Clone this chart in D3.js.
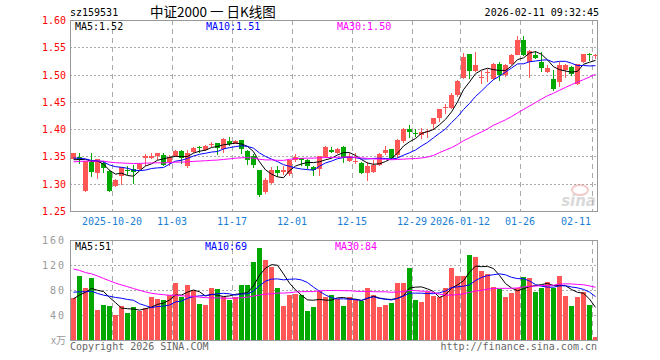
<!DOCTYPE html>
<html><head><meta charset="utf-8">
<script src="https://cdn.jsdelivr.net/npm/d3@7/dist/d3.min.js"></script>
<style>html,body{margin:0;padding:0;background:#fff}svg{display:block}</style>
</head><body><svg id="c" width="660" height="360"></svg>
<script>
const dates = [
"2025-10-09","2025-10-10","2025-10-13","2025-10-14","2025-10-15","2025-10-16","2025-10-17",
"2025-10-20","2025-10-21","2025-10-22","2025-10-23","2025-10-24","2025-10-27","2025-10-28","2025-10-29","2025-10-30","2025-10-31",
"2025-11-03","2025-11-04","2025-11-05","2025-11-06","2025-11-07","2025-11-10","2025-11-11","2025-11-12","2025-11-13","2025-11-14",
"2025-11-17","2025-11-18","2025-11-19","2025-11-20","2025-11-21","2025-11-24","2025-11-25","2025-11-26","2025-11-27","2025-11-28",
"2025-12-01","2025-12-02","2025-12-03","2025-12-04","2025-12-05","2025-12-08","2025-12-09","2025-12-10","2025-12-11","2025-12-12",
"2025-12-15","2025-12-16","2025-12-17","2025-12-18","2025-12-19","2025-12-22","2025-12-23","2025-12-24","2025-12-25","2025-12-26",
"2025-12-29","2025-12-30","2025-12-31",
"2026-01-05","2026-01-06","2026-01-07","2026-01-08","2026-01-09",
"2026-01-12","2026-01-13","2026-01-14","2026-01-15","2026-01-16","2026-01-19","2026-01-20","2026-01-21","2026-01-22","2026-01-23",
"2026-01-26","2026-01-27","2026-01-28","2026-01-29","2026-01-30",
"2026-02-02","2026-02-03","2026-02-04","2026-02-05","2026-02-06","2026-02-09","2026-02-10","2026-02-11"];

const openP = [1.346,1.349,1.286,1.340,1.319,1.338,1.324,1.296,1.314,1.326,1.327,1.327,1.348,1.348,1.351,1.352,1.340,1.350,1.360,1.333,
1.359,1.368,1.361,1.371,1.374,1.364,1.379,1.373,1.380,1.360,1.350,1.325,1.284,1.301,1.325,1.321,1.317,1.344,1.347,1.344,
1.330,1.327,1.349,1.361,1.357,1.368,1.341,1.339,1.338,1.319,1.321,1.335,1.356,1.363,1.352,1.379,1.400,1.393,1.389,1.394,
1.409,1.420,1.438,1.438,1.462,1.493,1.538,1.507,1.494,1.503,1.492,1.520,1.499,1.520,1.536,1.564,1.523,1.536,1.523,1.504,
1.492,1.486,1.509,1.513,1.483,1.523,1.538,1.534];
const highP = [1.357,1.356,1.342,1.356,1.345,1.342,1.325,1.309,1.331,1.333,1.334,1.338,1.354,1.357,1.357,1.357,1.352,1.362,1.362,1.361,
1.368,1.370,1.371,1.376,1.375,1.383,1.386,1.381,1.381,1.361,1.354,1.326,1.310,1.331,1.333,1.332,1.344,1.354,1.348,1.346,
1.332,1.350,1.370,1.368,1.366,1.370,1.356,1.356,1.340,1.340,1.344,1.356,1.369,1.364,1.382,1.402,1.407,1.400,1.403,1.401,
1.421,1.437,1.446,1.467,1.490,1.540,1.538,1.541,1.507,1.510,1.521,1.523,1.519,1.537,1.570,1.570,1.545,1.544,1.541,1.518,
1.509,1.523,1.520,1.515,1.520,1.538,1.540,1.538];
const lowP = [1.345,1.337,1.284,1.313,1.309,1.319,1.285,1.294,1.298,1.316,1.299,1.326,1.333,1.345,1.343,1.333,1.333,1.349,1.336,1.328,
1.357,1.356,1.360,1.367,1.352,1.357,1.369,1.372,1.354,1.335,1.328,1.276,1.281,1.300,1.313,1.316,1.314,1.340,1.332,1.327,
1.315,1.315,1.348,1.356,1.354,1.338,1.339,1.336,1.317,1.305,1.320,1.332,1.353,1.346,1.348,1.374,1.384,1.385,1.382,1.383,
1.399,1.414,1.428,1.437,1.458,1.492,1.491,1.505,1.483,1.486,1.490,1.488,1.495,1.518,1.535,1.534,1.493,1.528,1.504,1.502,
1.469,1.478,1.493,1.498,1.480,1.521,1.525,1.528];
const closeP = [1.356,1.344,1.341,1.322,1.345,1.328,1.287,1.306,1.331,1.323,1.322,1.336,1.350,1.351,1.356,1.335,1.349,1.360,1.348,1.357,
1.366,1.367,1.369,1.373,1.366,1.382,1.373,1.379,1.364,1.344,1.334,1.279,1.306,1.325,1.319,1.326,1.343,1.349,1.344,1.333,
1.325,1.350,1.367,1.358,1.363,1.347,1.350,1.341,1.320,1.332,1.335,1.355,1.361,1.348,1.381,1.400,1.394,1.391,1.395,1.397,
1.420,1.437,1.441,1.463,1.488,1.533,1.507,1.517,1.496,1.505,1.520,1.500,1.517,1.536,1.564,1.536,1.544,1.530,1.512,1.512,
1.474,1.517,1.518,1.501,1.520,1.538,1.536,1.535];
const volume = [66.6,101.8,82.6,98.6,48.5,56.5,54.9,40.5,54.9,43.7,53.3,46.9,51.2,68.2,65.5,63.4,72.0,90.6,68.2,88.5,
80.5,58.1,56.5,82.6,80.9,69.3,63.4,69.3,88.5,88.5,124.2,146.6,127.4,116.2,83.7,54.9,72.5,74.1,72.5,46.9,
52.2,78.9,68.2,72.5,65.5,54.9,68.2,65.5,61.8,82.6,72.5,53.3,56.5,59.7,91.7,91.7,115.7,64.4,61.2,76.1,
70.8,68.2,83.7,115.7,102.9,102.9,136.5,133.3,110.9,105.5,85.3,81.6,68.2,75.7,82.6,101.3,99.7,76.1,83.7,92.3,
83.7,102.9,70.8,54.9,69.3,76.1,56.5,4.2];
// closes / volumes of the 29 sessions before the window (estimated from where the MA lines start)
const prevCloses = [1.318,1.325,1.331,1.329,1.336,1.342,1.338,1.345,1.340,1.334,1.330,1.337,1.341,1.346,1.339,1.333,1.338,1.344,1.342,1.343,
1.348,1.353,1.349,1.352,1.348,1.343,1.338,1.342,1.341];
const prevVolumes = [170,185,160,150,175,166,155,140,128,145,130,132,130,105,92,100,88,98,96,98,95,82,90,84,84,72,60,68,63];

const priceTicks = [1.25,1.30,1.35,1.40,1.45,1.50,1.55,1.60];
const volTicks = [40,80,120,160];
const xTickDates = ["2025-10-20","2025-11-03","2025-11-17","2025-12-01","2025-12-15","2025-12-29","2026-01-12","2026-01-26","2026-02-11"];
const xTickLabels = ["2025-10-20","11-03","11-17","12-01","12-15","12-29","2026-01-12","01-26","02-11"];
const priceMaLabels = ["MA5:1.52","MA10:1.51","MA30:1.50"];
const volMaLabels = ["MA5:51","MA10:69","MA30:84"];
const maPeriods = [5,10,30];
const maColors = ["#000000","#0000ff","#ff00ff"];

const RED = "#ff5656", GREEN = "#00a800", GRID = "#aaaaaa", FRAME = "#999999";
const MONO = "'DejaVu Sans Mono', 'Liberation Mono', monospace";

const svg = d3.select("#c");
const L = 70, R = 598;
const x = d3.scaleBand().domain(dates).range([L, R]).padding(0);
const yP = d3.scaleLinear().domain([1.25, 1.60]).range([211, 20]);
const yV = d3.scaleLinear().domain([0, 160]).range([340, 240]);

function movingAvg(series, prev, n) {
  const all = prev.concat(series), off = prev.length;
  return series.map((_, i) => d3.mean(all.slice(off + i - n + 1, off + i + 1)));
}

// header
svg.append("text").attr("x", 70).attr("y", 16).attr("font-family", MONO).attr("font-size", 10).attr("fill", "#000").text("sz159531");
svg.append("text").attr("x", 150).attr("y", 17).attr("font-family", "'Noto Sans CJK SC', sans-serif").attr("font-size", 13.5).attr("fill", "#000").text("中证2000 一 日K线图");
svg.append("text").attr("x", 599).attr("y", 16).attr("text-anchor", "end").attr("font-family", MONO).attr("font-size", 10).attr("fill", "#000").text("2026-02-11 09:32:45");

// ---------- price panel ----------
const gP = svg.append("g");
gP.selectAll(".hg").data(priceTicks.slice(1, -1)).join("line")
  .attr("x1", L).attr("x2", R).attr("y1", d => Math.round(yP(d)) + 0.5).attr("y2", d => Math.round(yP(d)) + 0.5)
  .attr("stroke", GRID).attr("stroke-dasharray", "2,2");
gP.selectAll(".vg").data(xTickDates).join("line")
  .attr("x1", d => x(d) + 0.5).attr("x2", d => x(d) + 0.5).attr("y1", 20).attr("y2", 211)
  .attr("stroke", GRID).attr("stroke-dasharray", "5,4");
gP.selectAll(".pl").data(priceTicks).join("text")
  .attr("x", 66).attr("y", d => yP(d) + 4).attr("text-anchor", "end")
  .attr("font-family", MONO).attr("font-size", 10).attr("fill", "#ff0000").text(d => d.toFixed(2));

// watermark
const wm = svg.append("g").attr("opacity", 0.55);
wm.append("ellipse").attr("cx", 580).attr("cy", 190).attr("rx", 8).attr("ry", 5).attr("fill", "none").attr("stroke", "#e8a0a0").attr("stroke-width", 2);
wm.append("text").attr("x", 596).attr("y", 206).attr("text-anchor", "end").attr("font-family", "'DejaVu Sans', sans-serif")
  .attr("font-size", 15).attr("font-weight", "bold").attr("font-style", "italic").attr("fill", "#bbbbbb").text("sina");

// candles
const cg = gP.append("g").attr("shape-rendering", "crispEdges");
const idx = d3.range(dates.length);
cg.selectAll(".wick").data(idx).join("line")
  .attr("x1", i => x(dates[i]) + 3.5).attr("x2", i => x(dates[i]) + 3.5)
  .attr("y1", i => yP(highP[i])).attr("y2", i => yP(lowP[i]))
  .attr("stroke", i => closeP[i] >= openP[i] ? RED : GREEN);
cg.selectAll(".body").data(idx).join("rect")
  .attr("x", i => x(dates[i]) + 1).attr("width", 5)
  .attr("y", i => yP(Math.max(openP[i], closeP[i])))
  .attr("height", i => Math.max(1, Math.abs(yP(openP[i]) - yP(closeP[i]))))
  .attr("fill", i => closeP[i] >= openP[i] ? RED : GREEN);

// price MAs
maPeriods.forEach((n, k) => {
  const m = movingAvg(closeP, prevCloses, n);
  gP.append("path").datum(m)
    .attr("d", d3.line().x((d, i) => x(dates[i]) + 3.5).y(d => yP(d)))
    .attr("fill", "none").attr("stroke", maColors[k]).attr("stroke-width", 1);
});
const maX = [75, 206, 337];
priceMaLabels.forEach((t, k) => svg.append("text").attr("x", maX[k]).attr("y", 30)
  .attr("font-family", MONO).attr("font-size", 10).attr("fill", maColors[k]).text(t));

svg.append("rect").attr("x", L + 0.5).attr("y", 20.5).attr("width", R - L - 1).attr("height", 191)
  .attr("fill", "none").attr("stroke", FRAME).attr("shape-rendering", "crispEdges");

// x labels
svg.selectAll(".xl").data(xTickDates).join("text")
  .attr("x", (d, i) => i === xTickDates.length - 1 ? x(d) - 1 : x(d))
  .attr("y", 225)
  .attr("text-anchor", (d, i) => i === xTickDates.length - 1 ? "end" : "middle")
  .attr("font-family", MONO).attr("font-size", 10).attr("fill", "#1a7fd4")
  .text((d, i) => xTickLabels[i]);

// ---------- volume panel ----------
const gV = svg.append("g");
gV.selectAll(".hg").data(volTicks.slice(0, -1)).join("line")
  .attr("x1", L).attr("x2", R).attr("y1", d => Math.round(yV(d)) + 0.5).attr("y2", d => Math.round(yV(d)) + 0.5)
  .attr("stroke", GRID).attr("stroke-dasharray", "2,2");
gV.selectAll(".vg").data(xTickDates).join("line")
  .attr("x1", d => x(d) + 0.5).attr("x2", d => x(d) + 0.5).attr("y1", 240).attr("y2", 340)
  .attr("stroke", GRID).attr("stroke-dasharray", "5,4");
gV.append("g").attr("shape-rendering", "crispEdges").selectAll("rect").data(idx).join("rect")
  .attr("x", i => x(dates[i]) + 1).attr("width", 5)
  .attr("y", i => yV(volume[i])).attr("height", i => yV(0) - yV(volume[i]))
  .attr("fill", i => closeP[i] >= openP[i] ? RED : GREEN);
maPeriods.forEach((n, k) => {
  const m = movingAvg(volume, prevVolumes, n);
  gV.append("path").datum(m)
    .attr("d", d3.line().x((d, i) => x(dates[i]) + 3.5).y(d => yV(d)))
    .attr("fill", "none").attr("stroke", maColors[k]).attr("stroke-width", 1);
});
gV.selectAll(".vl").data(volTicks).join("text")
  .attr("x", 66).attr("y", d => yV(d) + 4).attr("text-anchor", "end")
  .attr("font-family", MONO).attr("font-size", 10).attr("letter-spacing", 2).attr("fill", "#999").text(d => d);
svg.append("text").attr("x", 66).attr("y", 344).attr("text-anchor", "end")
  .attr("font-family", "'Noto Sans CJK SC', sans-serif").attr("font-size", 10).attr("fill", "#999").text("x万");
const vmaX = [75, 205, 335];
volMaLabels.forEach((t, k) => svg.append("text").attr("x", vmaX[k]).attr("y", 250)
  .attr("font-family", MONO).attr("font-size", 10).attr("fill", maColors[k]).text(t));
svg.append("rect").attr("x", L + 0.5).attr("y", 240.5).attr("width", R - L - 1).attr("height", 100)
  .attr("fill", "none").attr("stroke", FRAME).attr("shape-rendering", "crispEdges");

// footer
svg.append("text").attr("x", 70).attr("y", 350).attr("font-family", MONO).attr("font-size", 10).attr("fill", "#666").text("Copyright 2026 SINA.COM");
svg.append("text").attr("x", 597).attr("y", 350).attr("text-anchor", "end").attr("font-family", MONO).attr("font-size", 10).attr("fill", "#666").text("http://finance.sina.com.cn");
</script></body></html>
